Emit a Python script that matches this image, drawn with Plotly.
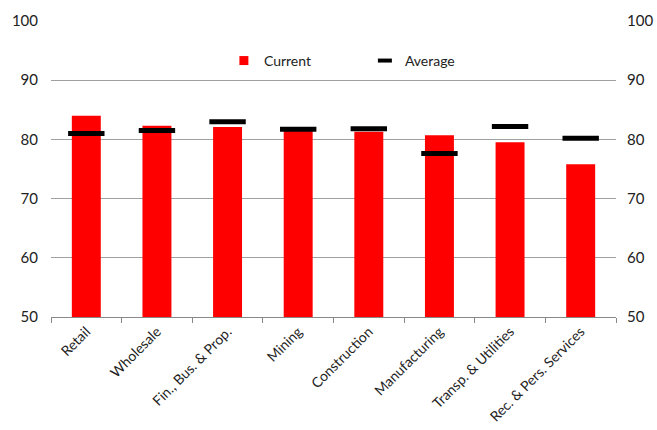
import plotly.graph_objects as go

categories = ["Retail", "Wholesale", "Fin., Bus. & Prop.", "Mining", "Construction",
              "Manufacturing", "Transp. & Utilities", "Rec. & Pers. Services"]
current = [84.0, 82.3, 82.1, 81.5, 81.3, 80.7, 79.5, 75.8]
average = [81.0, 81.5, 83.0, 81.7, 81.8, 77.6, 82.2, 80.2]

FONT = "Lato"
fig = go.Figure()
fig.add_trace(go.Bar(x=categories, y=current, name="Current", showlegend=False,
                     marker=dict(color="#FF0000", line=dict(width=0)), width=0.41))
fig.add_trace(go.Scatter(x=categories, y=average, name="Average", mode="markers",
                         showlegend=False,
                         marker=dict(symbol="line-ew-open", size=26,
                                     line=dict(width=5, color="black"), color="black")))
# legend entries with small symbols like the reference
fig.add_trace(go.Scatter(x=[None], y=[None], name="Current", mode="markers",
                         marker=dict(symbol="square", size=9, color="#FF0000")))
fig.add_trace(go.Scatter(x=[None], y=[None], name="Average", mode="markers",
                         marker=dict(symbol="line-ew-open", size=10, color="black",
                                     line=dict(width=4, color="black"))))
fig.add_trace(go.Scatter(x=categories, y=average, yaxis="y2", mode="markers",
                         marker=dict(opacity=0), showlegend=False, hoverinfo="skip"))

fig.update_layout(
    width=657, height=430,
    margin=dict(l=51, r=41, t=21, b=113),
    plot_bgcolor="white", paper_bgcolor="white",
    font=dict(family=FONT, size=15, color="#222222"),
    bargap=0.59,
    showlegend=True,
    legend=dict(orientation="h", x=0.306, y=0.865, xanchor="left", yanchor="middle",
                entrywidth=96, entrywidthmode="pixels", font=dict(size=14),
                bgcolor="rgba(0,0,0,0)", itemwidth=30),
    xaxis=dict(type="category", range=[-0.5, 7.5], tickangle=-45, showline=True,
               linecolor="#888888", linewidth=1, ticks="outside",
               tickson="boundaries", ticklen=5, tickcolor="#888888",
               showgrid=False, tickfont=dict(size=14), automargin=False),
    yaxis=dict(range=[50, 100], dtick=10, showgrid=True, gridcolor="#A0A0A0",
               gridwidth=1, zeroline=False, showline=False, ticks="",
               tickfont=dict(size=15), ticklabelstandoff=12, automargin=False),
    yaxis2=dict(range=[50, 100], dtick=10, overlaying="y", side="right",
                showgrid=False, zeroline=False, showline=False, ticks="",
                tickfont=dict(size=15), ticklabelstandoff=10, automargin=False),
)
fig.write_html("out.html")
